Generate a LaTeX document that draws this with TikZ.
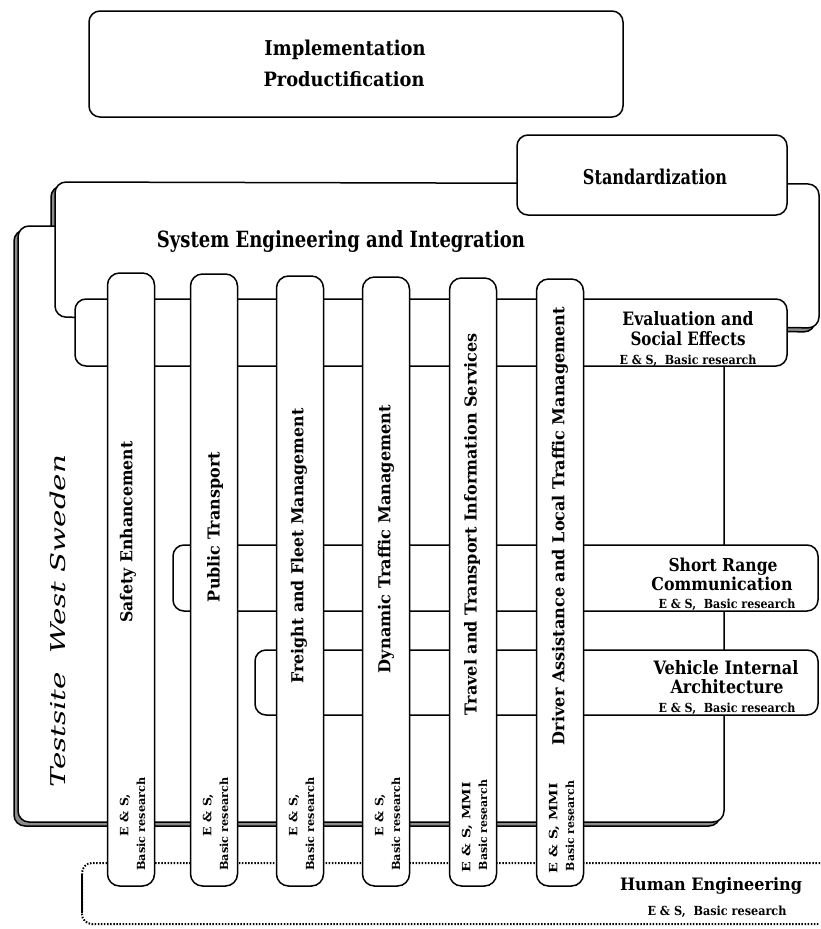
\documentclass[tikz,border=0pt]{standalone}
\usepackage{fontspec}
\setmainfont{DejaVu Serif}
\usepackage{graphicx}
\newcommand{\lbl}[3]{\resizebox{#1pt}{#2pt}{#3}}
\begin{document}
\begin{tikzpicture}[x=1pt,y=-1pt,line width=1.5pt,
  box/.style={draw,fill=white,rounded corners=11pt},
  shadowbox/.style={draw,fill=black!45,rounded corners=11pt},
  colbox/.style={draw,fill=white,rounded corners=12pt},
  hdot/.style={line width=2pt,dash pattern=on 1.5pt off 1.6pt,rounded corners=10pt},
  txt/.style={inner sep=0pt,anchor=base,font=\bfseries},
  vtxt/.style={inner sep=0pt,anchor=center,rotate=90,font=\bfseries}]
\useasboundingbox (0,0) rectangle (820,929);

% shadows and back layers
\draw[shadowbox,shift={(-4,4)}] (55,182) -- (819,184) -- (819,328) -- (55,317) -- cycle;
\draw[shadowbox,shift={(-4,4)}] (18,226) rectangle (724,822);
\draw[box] (18,226) rectangle (724,822);
\draw[box] (55,182) -- (819,184) -- (819,328) -- (55,317) -- cycle;

% top boxes
\draw[box] (89,11) rectangle (623,117);
\draw[box] (517,135) rectangle (787,215);

% horizontal bands
\draw[box] (75,299) rectangle (787,366);
\draw[box] (173,545) rectangle (818,611);
\draw[box] (255,650) rectangle (818,715);

% human engineering (dotted)
\draw[hdot] (820,863) -- (82,863) -- (82,924) -- (820,924);
\draw[line width=1.1pt] (82,874) -- (82,913);

% columns
\draw[colbox] (107.5,273) rectangle (154.5,886);
\draw[colbox] (190.5,274) rectangle (237.5,886);
\draw[colbox] (276.5,276) rectangle (323.5,886);
\draw[colbox] (362.5,277) rectangle (409.5,886);
\draw[colbox] (449.5,278) rectangle (496.5,886);
\draw[colbox] (536.5,279) rectangle (583.5,886);

% texts: top
\node[txt] (impl) at (345,55) {\lbl{161}{15.5}{Implementation}};
\node[txt] (prod) at (344,86) {\lbl{161}{15}{Productification}};
\node[txt] (std) at (655,184) {\lbl{144}{15.5}{Standardization}};
\node[txt] (se) at (341,247) {\lbl{368}{17}{System Engineering and Integration}};

% testsite
\node[inner sep=0pt,rotate=90] (ts) at (58,621) {\itshape\lbl{332}{15.5}{Testsite\ \ West Sweden}};

% right labels
\node[txt] (ev1) at (688,325) {\lbl{131}{14}{Evaluation and}};
\node[txt] (ev2) at (688,345.5) {\lbl{115}{14}{Social Effects}};
\node[txt] (ev3) at (688,364) {\lbl{137}{9.5}{E \& S,\ \ Basic research}};

\node[txt] (sr1) at (723,571.5) {\lbl{109}{13.5}{Short Range}};
\node[txt] (sr2) at (722,590) {\lbl{141}{13.5}{Communication}};
\node[txt] (sr3) at (727,608) {\lbl{137}{9.5}{E \& S,\ \ Basic research}};

\node[txt] (vi1) at (726,674) {\lbl{145}{14}{Vehicle Internal}};
\node[txt] (vi2) at (727,693) {\lbl{113}{14}{Architecture}};
\node[txt] (vi3) at (727,712.5) {\lbl{137}{9.5}{E \& S,\ \ Basic research}};

\node[txt] (he1) at (711,890) {\lbl{182}{13}{Human Engineering}};
\node[txt] (he2) at (717,915) {\lbl{139}{9.5}{E \& S,\ \ Basic research}};

% column labels
\node[vtxt] (c1) at (128,532) {\lbl{181}{12.5}{Safety Enhancement}};
\node[vtxt] (c2) at (215,527) {\lbl{150}{12.5}{Public Transport}};
\node[vtxt] (c3) at (299,546) {\lbl{275}{12.5}{Freight and Fleet Management}};
\node[vtxt] (c4) at (386,539) {\lbl{268}{12.5}{Dynamic Traffic Management}};
\node[vtxt] (c5) at (472,524) {\lbl{382}{12.5}{Travel and Transport Information Services}};
\node[vtxt] (c6) at (560,526) {\lbl{438}{12.5}{Driver Assistance and Local Traffic Management}};

% column bottom labels
\node[vtxt] (b1a) at (125,815) {\lbl{42}{8.5}{E \& S,}};
\node[vtxt] (b1b) at (141,824) {\lbl{93}{8.5}{Basic research}};
\node[vtxt] (b2a) at (208,815) {\lbl{42}{8.5}{E \& S,}};
\node[vtxt] (b2b) at (224,824) {\lbl{93}{8.5}{Basic research}};
\node[vtxt] (b3a) at (294,815) {\lbl{42}{8.5}{E \& S,}};
\node[vtxt] (b3b) at (310,824) {\lbl{93}{8.5}{Basic research}};
\node[vtxt] (b4a) at (380,815) {\lbl{42}{8.5}{E \& S,}};
\node[vtxt] (b4b) at (396,824) {\lbl{93}{8.5}{Basic research}};
\node[vtxt] (b5a) at (467,827) {\lbl{90}{8.5}{E \& S, MMI}};
\node[vtxt] (b5b) at (483,825) {\lbl{90}{8.5}{Basic research}};
\node[vtxt] (b6a) at (554,828) {\lbl{90}{8.5}{E \& S, MMI}};
\node[vtxt] (b6b) at (570,826) {\lbl{90}{8.5}{Basic research}};
\end{tikzpicture}
\end{document}
